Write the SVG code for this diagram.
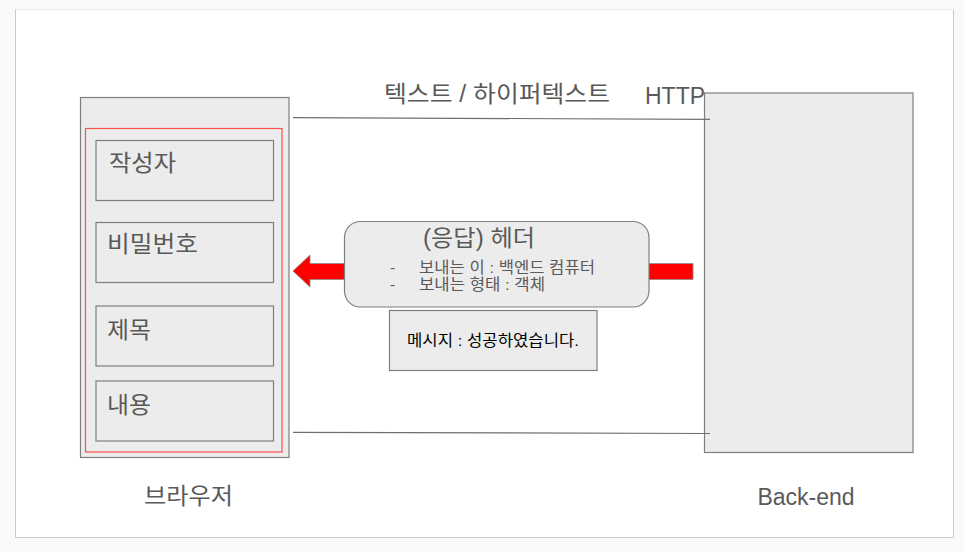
<svg xmlns="http://www.w3.org/2000/svg" width="964" height="552" viewBox="0 0 964 552">
<style>
text{font-family:"Liberation Sans","Noto Sans CJK KR",sans-serif;fill:#595959}
.box{fill:#ececec;stroke:#7f7f7f;stroke-width:1.2}
.lbl{font-size:22.5px}
.big{font-size:23px}
.sm{font-size:15.5px}
.line{stroke:#6f6f6f;stroke-width:1.2;fill:none}
</style>
<rect x="0" y="0" width="964" height="552" fill="#f8f9fa"/>
<rect x="15.5" y="9.5" width="938" height="528" fill="#ffffff"/>
<path d="M15.5,9.5 H953.5" stroke="#ececec" stroke-width="1" fill="none"/>
<path d="M15.5,9.5 V537.5 H953.5 V9.5" stroke="#c9c9c9" stroke-width="1" fill="none"/>
<g id="browser">
<rect class="box" x="80.5" y="97.5" width="208.5" height="360"/>
<rect x="85.5" y="128.5" width="196.5" height="323.5" fill="none" stroke="#ff5050" stroke-width="1.2"/>
<text class="big" x="144" y="504" textLength="89" lengthAdjust="spacingAndGlyphs">브라우저</text>
</g>
<g id="field-author">
<rect class="box" x="96" y="140.5" width="177.5" height="60"/>
<text class="lbl" x="109" y="171" textLength="67" lengthAdjust="spacingAndGlyphs">작성자</text>
</g>
<g id="field-password">
<rect class="box" x="96" y="222.5" width="177.5" height="60"/>
<text class="lbl" x="107" y="252" textLength="91" lengthAdjust="spacingAndGlyphs">비밀번호</text>
</g>
<g id="field-title">
<rect class="box" x="96" y="306" width="177.5" height="60"/>
<text class="lbl" x="107" y="338" textLength="44" lengthAdjust="spacingAndGlyphs">제목</text>
</g>
<g id="field-content">
<rect class="box" x="96" y="381" width="177.5" height="60"/>
<text class="lbl" x="107" y="413" textLength="44" lengthAdjust="spacingAndGlyphs">내용</text>
</g>
<g id="backend">
<rect class="box" x="704.5" y="93" width="208.5" height="359.5"/>
<text class="big" x="806" y="505" text-anchor="middle">Back-end</text>
</g>
<g id="connectors">
<line class="line" x1="293" y1="117.7" x2="710" y2="119.3"/>
<line class="line" x1="293" y1="432.3" x2="710" y2="433.5"/>
<path id="response-arrow" d="M693,263.5 L310,263.5 L310,255 L293,271 L310,287 L310,279.5 L693,279.5 Z" fill="#ff0000" stroke="#8a8a8a" stroke-width="0.8"/>
</g>
<g id="labels">
<text class="big" x="384" y="102" textLength="226" lengthAdjust="spacingAndGlyphs">텍스트 / 하이퍼텍스트</text>
<text class="big" x="645" y="104">HTTP</text>
</g>
<g id="header">
<rect x="344.5" y="221.5" width="304.5" height="85.5" rx="16" fill="#ececec" stroke="#7f7f7f" stroke-width="1.2"/>
<text x="423" y="246" font-size="23px" textLength="112" lengthAdjust="spacingAndGlyphs">(응답) 헤더</text>
<text class="sm" x="390" y="273">-</text>
<text class="sm" x="419" y="273" textLength="176" lengthAdjust="spacingAndGlyphs">보내는 이 : 백엔드 컴퓨터</text>
<text class="sm" x="390" y="290">-</text>
<text class="sm" x="419" y="290" textLength="126" lengthAdjust="spacingAndGlyphs">보내는 형태 : 객체</text>
</g>
<g id="message">
<rect class="box" x="389.5" y="310.5" width="207.5" height="60"/>
<text class="sm" x="407" y="346" textLength="172" lengthAdjust="spacingAndGlyphs" style="fill:#000000">메시지 : 성공하였습니다.</text>
</g>
</svg>
